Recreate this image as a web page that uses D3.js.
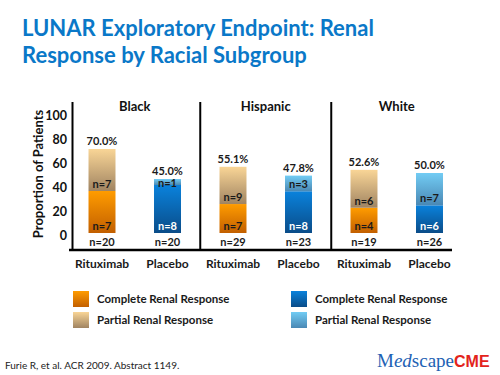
<!DOCTYPE html>
<html>
<head>
<meta charset="utf-8">
<script src="https://cdn.jsdelivr.net/npm/d3@7"></script>
<style>
  body { margin: 0; background: #fff; }
  svg { display: block; font-family: Lato, "Open Sans", sans-serif; }
</style>
</head>
<body>
<svg id="chart" width="500" height="375"></svg>
<script>
const svg = d3.select("#chart");

// data
const groups = ["Black", "Hispanic", "White"];
const arms = ["Rituximab", "Placebo", "Rituximab", "Placebo", "Rituximab", "Placebo"];
const totalN = [20, 20, 29, 23, 19, 26];
const completeN = [7, 8, 7, 8, 4, 6];
const partialN = [7, 1, 9, 3, 6, 7];
const pctLabels = ["70.0%", "45.0%", "55.1%", "47.8%", "52.6%", "50.0%"];
const yTicks = [0, 20, 40, 60, 80, 100];

const bars = arms.map((arm, i) => ({
    id: i,
    arm: arm,
    drug: i % 2 == 0 ? "ritux" : "placebo",
    total: totalN[i],
    complete: completeN[i],
    partial: partialN[i],
    label: pctLabels[i],
}));

const x = d3.scaleBand().domain(bars.map(d => d.id)).range([50, 481.5]).padding(0.588);
const y = d3.scaleLinear().domain([0, 100]).range([233, 113]);

// gradients
const defs = svg.append("defs");
function grad(id, top, bottom) {
    const g = defs.append("linearGradient").attr("id", id)
        .attr("x1", 0).attr("y1", 0).attr("x2", 0).attr("y2", 1);
    g.append("stop").attr("offset", "0%").attr("stop-color", top);
    g.append("stop").attr("offset", "100%").attr("stop-color", bottom);
}
grad("ritux_complete", "#ff9c00", "#c25f00");
grad("ritux_partial", "#f9d596", "#a08462");
grad("placebo_complete", "#0a82dc", "#0a4c88");
grad("placebo_partial", "#72ccf4", "#4a88b4");

// title
svg.append("text")
    .attr("x", 22).attr("y", 36)
    .attr("fill", "#0a78c8")
    .style("font-size", "22px").style("font-weight", "bold")
    .text("LUNAR Exploratory Endpoint: Renal");
svg.append("text")
    .attr("x", 22).attr("y", 63)
    .attr("fill", "#0a78c8")
    .style("font-size", "22px").style("font-weight", "bold")
    .text("Response by Racial Subgroup");

// y axis labels
const yAxis = svg.append("g")
    .attr("transform", "translate(70,2)")
    .call(d3.axisLeft(y).tickValues(yTicks).tickSize(0).tickPadding(3));
yAxis.select(".domain").remove();
yAxis.selectAll("text")
    .style("font-family", "Lato, sans-serif")
    .style("font-size", "12.5px").style("font-weight", "bold").attr("fill", "#111");

svg.append("text")
    .attr("transform", "translate(43,174) rotate(-90)")
    .attr("text-anchor", "middle")
    .style("font-size", "13px").style("font-weight", "bold")
    .attr("fill", "#111")
    .text("Proportion of Patients");

// frame lines
const lineTop = 102, lineBottom = 250;
svg.append("line")
    .attr("x1", 72.5).attr("x2", 72.5).attr("y1", lineTop).attr("y2", lineBottom)
    .attr("stroke", "#000").attr("stroke-width", 2);
svg.append("line")
    .attr("x1", 69).attr("x2", 452).attr("y1", lineBottom).attr("y2", lineBottom)
    .attr("stroke", "#000").attr("stroke-width", 2.5);
[1, 2].forEach(g => {
    const xm = (x(g * 2 - 1) + x(g * 2) + x.bandwidth()) / 2;
    svg.append("line")
        .attr("x1", xm).attr("x2", xm).attr("y1", lineTop).attr("y2", lineBottom)
        .attr("stroke", "#000").attr("stroke-width", 2);
});

// group titles
groups.forEach((g, i) => {
    const cx = (x(i * 2) + x(i * 2 + 1) + x.bandwidth()) / 2;
    svg.append("text")
        .attr("x", cx).attr("y", 111)
        .attr("text-anchor", "middle")
        .style("font-size", "13px").style("font-weight", "bold")
        .attr("fill", "#111")
        .text(g);
});

// bars
const barG = svg.selectAll(".bar").data(bars).join("g").attr("class", "bar");
const completeTop = d => y(d.complete / d.total * 100);
const partialTop = d => y((d.complete + d.partial) / d.total * 100);

barG.append("rect")
    .attr("x", d => x(d.id))
    .attr("width", x.bandwidth())
    .attr("y", completeTop)
    .attr("height", d => y(0) - completeTop(d))
    .attr("fill", d => `url(#${d.drug}_complete)`);

barG.append("rect")
    .attr("x", d => x(d.id))
    .attr("width", x.bandwidth())
    .attr("y", partialTop)
    .attr("height", d => completeTop(d) - partialTop(d))
    .attr("fill", d => `url(#${d.drug}_partial)`);

const cx = d => x(d.id) + x.bandwidth() / 2;

// n labels inside segments
barG.append("text")
    .attr("x", cx).attr("y", y(0) - 3)
    .attr("text-anchor", "middle")
    .style("font-size", "11px").style("font-weight", "bold")
    .attr("fill", d => d.drug == "placebo" ? "#fff" : "#1a1a1a")
    .text(d => "n=" + d.complete);

barG.append("text")
    .attr("x", cx).attr("y", d => Math.max(completeTop(d) - 3, partialTop(d) + 8))
    .attr("text-anchor", "middle")
    .style("font-size", "11px").style("font-weight", "bold")
    .attr("fill", "#1a1a1a")
    .text(d => "n=" + d.partial);

// percent on top
barG.append("text")
    .attr("x", cx).attr("y", d => partialTop(d) - 4)
    .attr("text-anchor", "middle")
    .style("font-size", "11px").style("font-weight", "bold")
    .attr("fill", "#1a1a1a")
    .text(d => d.label);

// totals below
barG.append("text")
    .attr("x", cx).attr("y", 246)
    .attr("text-anchor", "middle")
    .style("font-size", "11px").style("font-weight", "bold")
    .attr("fill", "#1a1a1a")
    .text(d => "n=" + d.total);

// arm labels
barG.append("text")
    .attr("x", cx).attr("y", 268)
    .attr("text-anchor", "middle")
    .style("font-size", "12px").style("font-weight", "bold")
    .attr("fill", "#1a1a1a")
    .text(d => d.arm);

// legend
const legendItems = [
    { key: "ritux_complete", text: "Complete Renal Response", x: 73, y: 291 },
    { key: "ritux_partial", text: "Partial Renal Response", x: 73, y: 312 },
    { key: "placebo_complete", text: "Complete Renal Response", x: 291, y: 291 },
    { key: "placebo_partial", text: "Partial Renal Response", x: 291, y: 312 },
];
const leg = svg.selectAll(".legend").data(legendItems).join("g").attr("class", "legend");
leg.append("rect")
    .attr("x", d => d.x).attr("y", d => d.y)
    .attr("width", 16).attr("height", 16)
    .attr("fill", d => `url(#${d.key})`);
leg.append("text")
    .attr("x", d => d.x + 24).attr("y", d => d.y + 12)
    .style("font-size", "11.5px").style("font-weight", "bold")
    .attr("fill", "#1a1a1a")
    .text(d => d.text);

// footer
svg.append("text")
    .attr("x", 5).attr("y", 369)
    .style("font-size", "10px")
    .attr("fill", "#222")
    .text("Furie R, et al. ACR 2009. Abstract 1149.");

const logo = svg.append("text")
    .attr("x", 377).attr("y", 367)
    .style("font-size", "19px");
logo.append("tspan").attr("fill", "#1e62b4")
    .style("font-family", "'Liberation Serif', serif").text("M");
logo.append("tspan").attr("fill", "#1e62b4")
    .style("font-family", "'Liberation Serif', serif").style("font-style", "italic").text("ed");
logo.append("tspan").attr("fill", "#1e62b4")
    .style("font-family", "'Liberation Serif', serif").text("scape");
logo.append("tspan").attr("fill", "#e3231b")
    .style("font-family", "'Liberation Sans', sans-serif").style("font-weight", "bold")
    .style("font-size", "16px").text("CME");
</script>
</body>
</html>
